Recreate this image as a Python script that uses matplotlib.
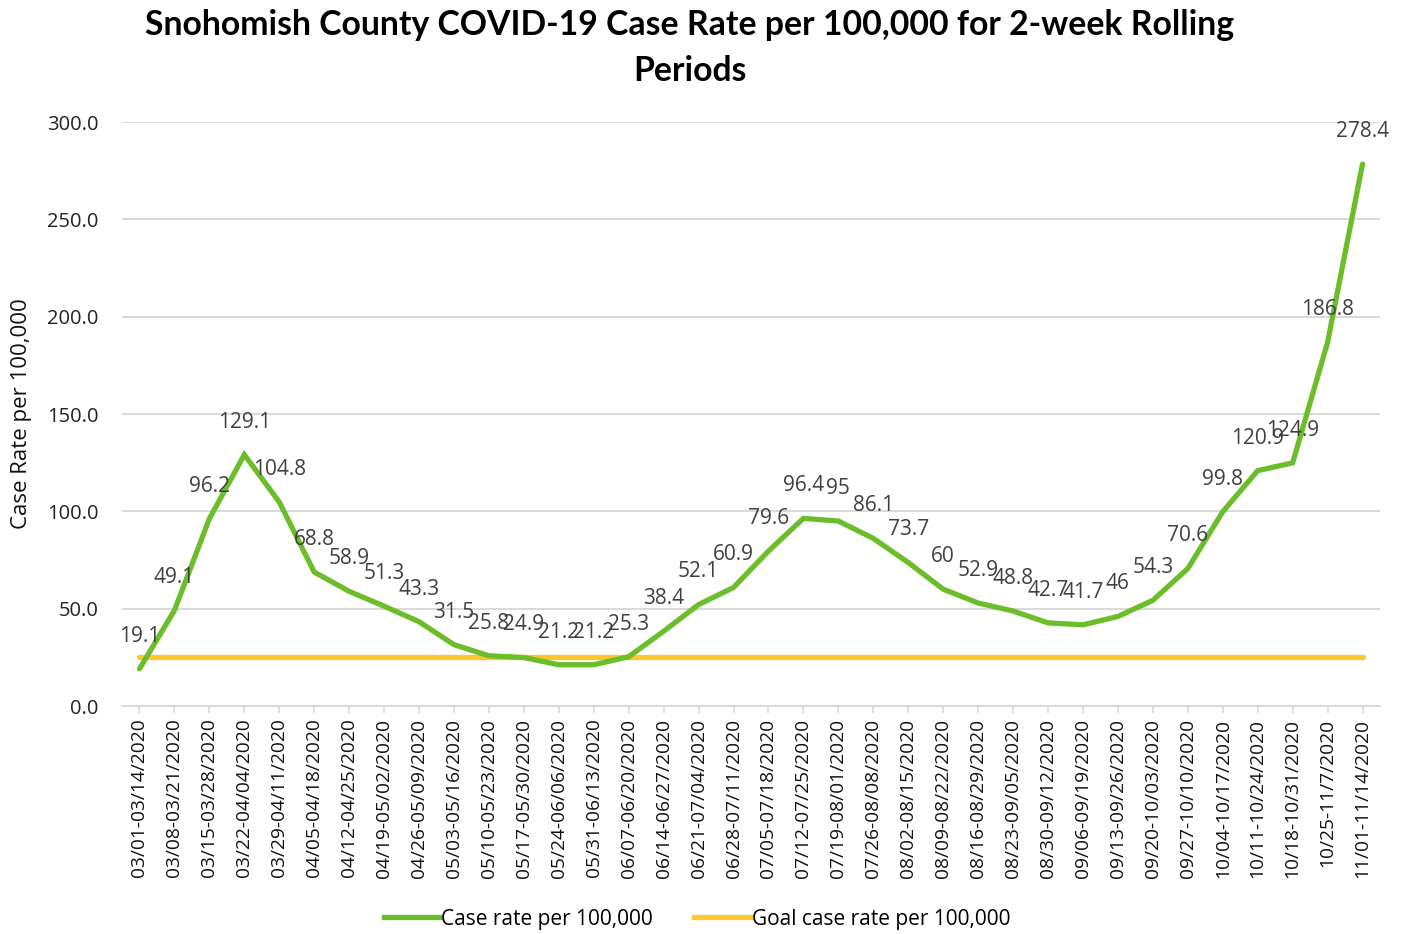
import matplotlib
matplotlib.use("Agg")
import matplotlib.pyplot as plt
from matplotlib.lines import Line2D

categories = ["03/01-03/14/2020", "03/08-03/21/2020", "03/15-03/28/2020", "03/22-04/04/2020",
              "03/29-04/11/2020", "04/05-04/18/2020", "04/12-04/25/2020", "04/19-05/02/2020",
              "04/26-05/09/2020", "05/03-05/16/2020", "05/10-05/23/2020", "05/17-05/30/2020",
              "05/24-06/06/2020", "05/31-06/13/2020", "06/07-06/20/2020", "06/14-06/27/2020",
              "06/21-07/04/2020", "06/28-07/11/2020", "07/05-07/18/2020", "07/12-07/25/2020",
              "07/19-08/01/2020", "07/26-08/08/2020", "08/02-08/15/2020", "08/09-08/22/2020",
              "08/16-08/29/2020", "08/23-09/05/2020", "08/30-09/12/2020", "09/06-09/19/2020",
              "09/13-09/26/2020", "09/20-10/03/2020", "09/27-10/10/2020", "10/04-10/17/2020",
              "10/11-10/24/2020", "10/18-10/31/2020", "10/25-11/7/2020", "11/01-11/14/2020"]
case_rate = [19.1, 49.1, 96.2, 129.1, 104.8, 68.8, 58.9, 51.3, 43.3, 31.5, 25.8, 24.9,
             21.2, 21.2, 25.3, 38.4, 52.1, 60.9, 79.6, 96.4, 95, 86.1, 73.7, 60,
             52.9, 48.8, 42.7, 41.7, 46, 54.3, 70.6, 99.8, 120.9, 124.9, 186.8, 278.4]
case_labels = ["19.1", "49.1", "96.2", "129.1", "104.8", "68.8", "58.9", "51.3", "43.3", "31.5",
               "25.8", "24.9", "21.2", "21.2", "25.3", "38.4", "52.1", "60.9", "79.6", "96.4",
               "95", "86.1", "73.7", "60", "52.9", "48.8", "42.7", "41.7", "46", "54.3",
               "70.6", "99.8", "120.9", "124.9", "186.8", "278.4"]
goal_rate = [25.0] * len(categories)
yticks = [0, 50, 100, 150, 200, 250, 300]

plt.rcParams['font.family'] = ['Open Sans', 'DejaVu Sans']

GREEN = '#6BBE2A'
GOLD = '#FFC72C'
TXT = '#404040'

fig = plt.figure(figsize=(14.08, 9.34), dpi=100)
ax = fig.add_axes([122/1408, 1-706/934, (1380-122)/1408, (706-122)/934])

x = list(range(len(categories)))
ax.plot(x, goal_rate, color=GOLD, lw=3.8, solid_capstyle='round', zorder=3)
ax.plot(x, case_rate, color=GREEN, lw=3.8, solid_capstyle='round', solid_joinstyle='miter', zorder=4)

for xi, v, lab in zip(x, case_rate, case_labels):
    ax.annotate(lab, (xi, v), xytext=(0, 23.5), textcoords='offset points',
                ha='center', va='center', fontsize=15, color=TXT, zorder=5)

ax.set_xlim(-0.5, len(categories) - 0.5)
ax.set_ylim(0, 300)
ax.set_yticks(yticks)
ax.set_yticklabels([f"{t:.1f}" for t in yticks], fontsize=14.5, color='#222222')
ax.set_xticks(x)
ax.set_xticklabels(categories, rotation=90, fontsize=13.8, color='#111111')
ax.grid(axis='y', color='#D9D9D9', lw=1.4)
ax.set_axisbelow(True)
for s in ['top', 'right', 'left']:
    ax.spines[s].set_visible(False)
ax.spines['bottom'].set_color('#D9D9D9')
ax.spines['bottom'].set_linewidth(1.4)
ax.tick_params(axis='y', length=0, pad=17)
ax.tick_params(axis='x', length=5, color='#D9D9D9', width=1.2, pad=4)
ax.set_ylabel("Case Rate per 100,000", fontsize=16, color='#111111')
ax.yaxis.set_label_coords(-(122 - 32) / 1258, 0.5)

fig.text(0.49, 0.99, "Snohomish County COVID-19 Case Rate per 100,000 for 2-week Rolling\nPeriods",
         ha='center', va='top', fontsize=24.3, fontweight='bold', family=['Lato', 'DejaVu Sans'],
         linespacing=1.52)

handles = [Line2D([], [], color=GREEN, lw=3.8), Line2D([], [], color=GOLD, lw=3.8)]
fig.legend(handles, ["Case rate per 100,000", "Goal case rate per 100,000"],
           loc='center', bbox_to_anchor=(0.495, 1-919/934), ncol=2, frameon=False,
           fontsize=15, handlelength=2.7, handletextpad=0.05, columnspacing=2.0)

fig.savefig("out.png", dpi=100)
